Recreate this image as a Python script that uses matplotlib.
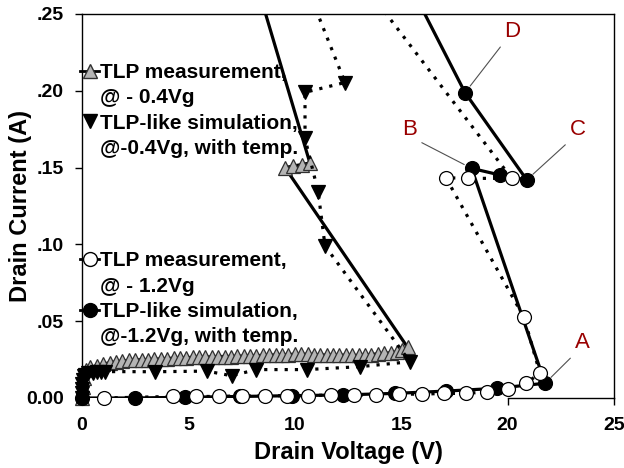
import numpy as np
import matplotlib.pyplot as plt
from matplotlib.lines import Line2D

plt.rcParams['font.family'] = ['Liberation Sans', 'DejaVu Sans']
plt.rcParams['font.weight'] = 'bold'

# TLP measurement, -0.4Vg (grey triangles)
meas04_v = [0.0, 0.05, 0.1, 0.2, 0.38, 0.7, 1.0, 1.3, 1.6, 1.9, 2.2, 2.5, 2.8, 3.1,
            3.4, 3.7, 4.0, 4.3, 4.6, 4.9, 5.2, 5.5, 5.8, 6.1, 6.4, 6.7, 7.0, 7.3,
            7.6, 7.9, 8.2, 8.5, 8.8, 9.1, 9.4, 9.7, 10.0, 10.3, 10.6, 10.9, 11.2,
            11.5, 11.8, 12.1, 12.4, 12.7, 13.0, 13.3, 13.6, 13.9, 14.2, 14.5, 14.8,
            15.05, 15.3, 9.54, 9.93, 10.32, 10.71, 8.2]
meas04_i = [0.0, 0.007, 0.013, 0.018, 0.020, 0.021, 0.022, 0.023, 0.0235, 0.024,
            0.0245, 0.0248, 0.025, 0.025, 0.0252, 0.0255, 0.0256, 0.026, 0.026,
            0.0262, 0.0265, 0.0265, 0.0267, 0.0268, 0.027, 0.027, 0.027, 0.0272,
            0.0273, 0.0275, 0.0275, 0.0278, 0.028, 0.028, 0.0282, 0.0283, 0.0285,
            0.0285, 0.0285, 0.0283, 0.028, 0.028, 0.028, 0.028, 0.0278, 0.0277,
            0.0277, 0.028, 0.0283, 0.0288, 0.029, 0.0295, 0.030, 0.031, 0.033,
            0.150, 0.151, 0.152, 0.153, 0.27]

# TLP-like simulation, -0.4Vg (black triangles)
sim04_v = [0.0, 0.0, 0.01, 0.02, 0.04, 0.08, 0.15, 0.3, 0.5, 0.7, 0.9, 1.1, 3.43,
           5.86, 7.03, 8.2, 10.56, 13.06, 15.41, 11.42, 11.1, 10.48, 10.48, 12.36, 10.5]
sim04_i = [0.0, 0.003, 0.006, 0.009, 0.012, 0.014, 0.015, 0.016, 0.0165, 0.017,
           0.017, 0.0172, 0.0171, 0.0175, 0.0145, 0.0185, 0.0185, 0.0204, 0.0236,
           0.099, 0.134, 0.169, 0.199, 0.2054, 0.27]

# TLP measurement, -1.2Vg (open circles)
meas12_v = [1.05, 4.27, 5.36, 6.45, 7.52, 8.6, 9.64, 10.62, 11.7, 12.78, 13.82,
            14.9, 15.98, 17.0, 18.05, 19.05, 20.03, 20.86, 21.52, 20.77, 17.1,
            18.15, 20.19, 13.2]
meas12_i = [0.0, 0.001, 0.001, 0.001, 0.0015, 0.0015, 0.0015, 0.0015, 0.002,
            0.002, 0.002, 0.0025, 0.0025, 0.003, 0.003, 0.004, 0.0057, 0.0096,
            0.0161, 0.0525, 0.1434, 0.143, 0.143, 0.27]

# TLP-like simulation, -1.2Vg (filled circles)
sim12_v = [0.0, 2.49, 4.86, 7.42, 9.85, 12.28, 14.71, 17.1, 19.49, 21.76,
           18.31, 19.64, 20.9, 18.0, 15.0]
sim12_i = [0.0, 0.0, 0.0005, 0.001, 0.0015, 0.002, 0.003, 0.0045, 0.0063, 0.0096,
           0.1495, 0.1452, 0.142, 0.1988, 0.28]

# labelled points on the -1.2Vg simulation curve
mark_names = ['A', 'B', 'C', 'D']
mark_idx = [9, 10, 12, 13]

ymax = 0.25

fig = plt.figure(figsize=(6.24, 4.68), dpi=100)
ax = fig.add_axes([82/624, 70/468, 532/624, 384/468])

series = [
    (meas04_v, meas04_i, '-', '^', '#b4b4b4', '#303030', 10, 2),
    (sim04_v, sim04_i, (0, (1, 2.2)), 'v', 'black', 'black', 9.5, 3),
    (sim12_v, sim12_i, '-', 'o', 'black', 'black', 10, 4),
    (meas12_v, meas12_i, (0, (1, 2.2)), 'o', 'white', 'black', 10, 5),
]
for v, i, ls, mk, fc, ec, ms, z in series:
    v = np.array(v)
    i = np.array(i)
    ax.plot(v, i, linestyle=ls, color='black', lw=2.3, zorder=z)
    inside = np.where(i <= ymax, i, np.nan)
    ax.plot(v, inside, linestyle='none', marker=mk, ms=ms, mfc=fc, mec=ec,
            mew=0.9, zorder=z + 0.5, clip_on=False)

# A B C D call-outs
offsets = {'A': (27, 29), 'B': (-45, 28), 'C': (37, 36), 'D': (34, 44)}
relpos = {'A': (0, 0), 'B': (1, 0), 'C': (0, 0), 'D': (0, 0)}
for name, k in zip(mark_names, mark_idx):
    ax.annotate(name, xy=(sim12_v[k], sim12_i[k]), xytext=offsets[name],
                textcoords='offset points', ha='center', va='center',
                fontsize=16, fontweight='normal', color='#990000',
                arrowprops=dict(arrowstyle='-', color='#505050', lw=0.8,
                                relpos=relpos[name], shrinkA=2, shrinkB=6),
                zorder=6)

ax.set_xlim(0, 25)
ax.set_ylim(0, ymax)
ax.set_xticks([0, 5, 10, 15, 20, 25])
ax.set_yticks([0, 0.05, 0.10, 0.15, 0.20, 0.25])
ax.set_yticklabels(['0.00', '.05', '.10', '.15', '.20', '.25'])
ax.tick_params(axis='both', direction='out', length=5, width=1, labelsize=14)
ax.tick_params(axis='y', pad=8)
ax.tick_params(axis='x', pad=9)
for s in ax.spines.values():
    s.set_linewidth(1)
ax.spines['bottom'].set_bounds(20, 25)
for t in ax.xaxis.get_major_ticks()[:4]:
    t.tick1line.set_visible(False)

ax.set_xlabel('Drain Voltage (V)', fontsize=17, fontweight='bold', labelpad=5)
ax.set_ylabel('Drain Current (A)', fontsize=17, fontweight='bold')
ax.yaxis.set_label_coords(-0.094, 0.5)

blank = Line2D([], [], linestyle='none')
h1 = Line2D([], [], color='black', lw=2, marker='^', ms=10, mfc='#b4b4b4', mec='#303030')
h2 = Line2D([], [], color='black', lw=2, linestyle='none', marker='v', ms=9.5)
h3 = Line2D([], [], color='black', lw=2, marker='o', ms=10, mfc='white', mec='black')
h4 = Line2D([], [], color='black', lw=2, marker='o', ms=10, mfc='black', mec='black')

leg_kw = dict(frameon=False, handlelength=0.9, handletextpad=0.05,
              labelspacing=0.3, borderpad=0, borderaxespad=0, loc='upper left',
              prop={'weight': 'bold', 'size': 15})
leg1 = ax.legend([h1, blank, h2, blank],
                 ['TLP measurement,', '@ - 0.4Vg', 'TLP-like simulation,',
                  '@-0.4Vg, with temp.'],
                 bbox_to_anchor=(-0.003, 0.872), **leg_kw)
ax.add_artist(leg1)
ax.legend([h3, blank, h4, blank],
          ['TLP measurement,', '@ - 1.2Vg', 'TLP-like simulation,',
           '@-1.2Vg, with temp.'],
          bbox_to_anchor=(-0.003, 0.382), **leg_kw)

fig.savefig('out.png', dpi=100)
